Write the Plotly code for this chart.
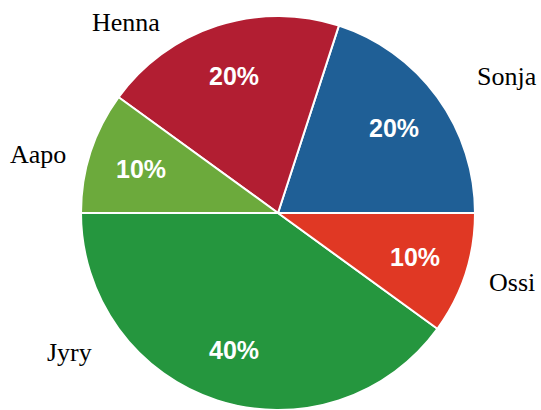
import math
import plotly.graph_objects as go

# Share of each person
names = ["Sonja", "Henna", "Aapo", "Jyry", "Ossi"]
shares = [20, 20, 10, 40, 10]
colors = ["#1f5f96", "#b21e32", "#6caa3c", "#25963e", "#e03824"]

# Name label placement (pixels from top-left)
label_pos = {
    "Sonja": (507, 77),
    "Henna": (126, 22),
    "Aapo": (38, 154),
    "Jyry": (69, 352),
    "Ossi": (512, 282),
}

W, H = 541, 410
dom_x = [79 / W, 477 / W]
dom_y = [0, 394 / H]
rotation = 18  # first slice ends at this angle (clockwise from 12 o'clock)

fig = go.Figure(
    go.Pie(
        labels=names,
        values=shares,
        sort=False,
        direction="counterclockwise",
        rotation=rotation,
        marker=dict(colors=colors, line=dict(color="white", width=2)),
        textinfo="none",
        hoverinfo="label+percent",
        showlegend=False,
        domain=dict(x=dom_x, y=dom_y),
    )
)

# Percentage labels placed along each slice's mid-angle
cx = (dom_x[0] + dom_x[1]) / 2 * W
cy = H - (dom_y[0] + dom_y[1]) / 2 * H
radius = min((dom_x[1] - dom_x[0]) * W, (dom_y[1] - dom_y[0]) * H) / 2
r_text = 0.73 * radius
total = sum(shares)
angle = rotation + 360 * shares[0] / total
for name, v in zip(names, shares):
    span = 360 * v / total
    mid = math.radians(angle - span / 2)
    angle -= span
    tx = cx + r_text * math.sin(mid)
    ty = cy - r_text * math.cos(mid)
    fig.add_annotation(
        x=tx / W, y=1 - ty / H, xref="paper", yref="paper",
        text=f"{v / total:.0%}", showarrow=False,
        font=dict(family="Liberation Sans, Arial", size=25, color="white", weight="bold"),
        xanchor="center", yanchor="middle",
    )

for name in names:
    px, py = label_pos[name]
    fig.add_annotation(
        x=px / W, y=1 - py / H, xref="paper", yref="paper",
        text=name, showarrow=False,
        font=dict(family="Liberation Serif, Times New Roman", size=26, color="black"),
        xanchor="center", yanchor="middle",
    )

fig.update_layout(
    width=W, height=H,
    margin=dict(l=0, r=0, t=0, b=0),
    paper_bgcolor="white",
    plot_bgcolor="white",
)

fig.write_html("out.html")
